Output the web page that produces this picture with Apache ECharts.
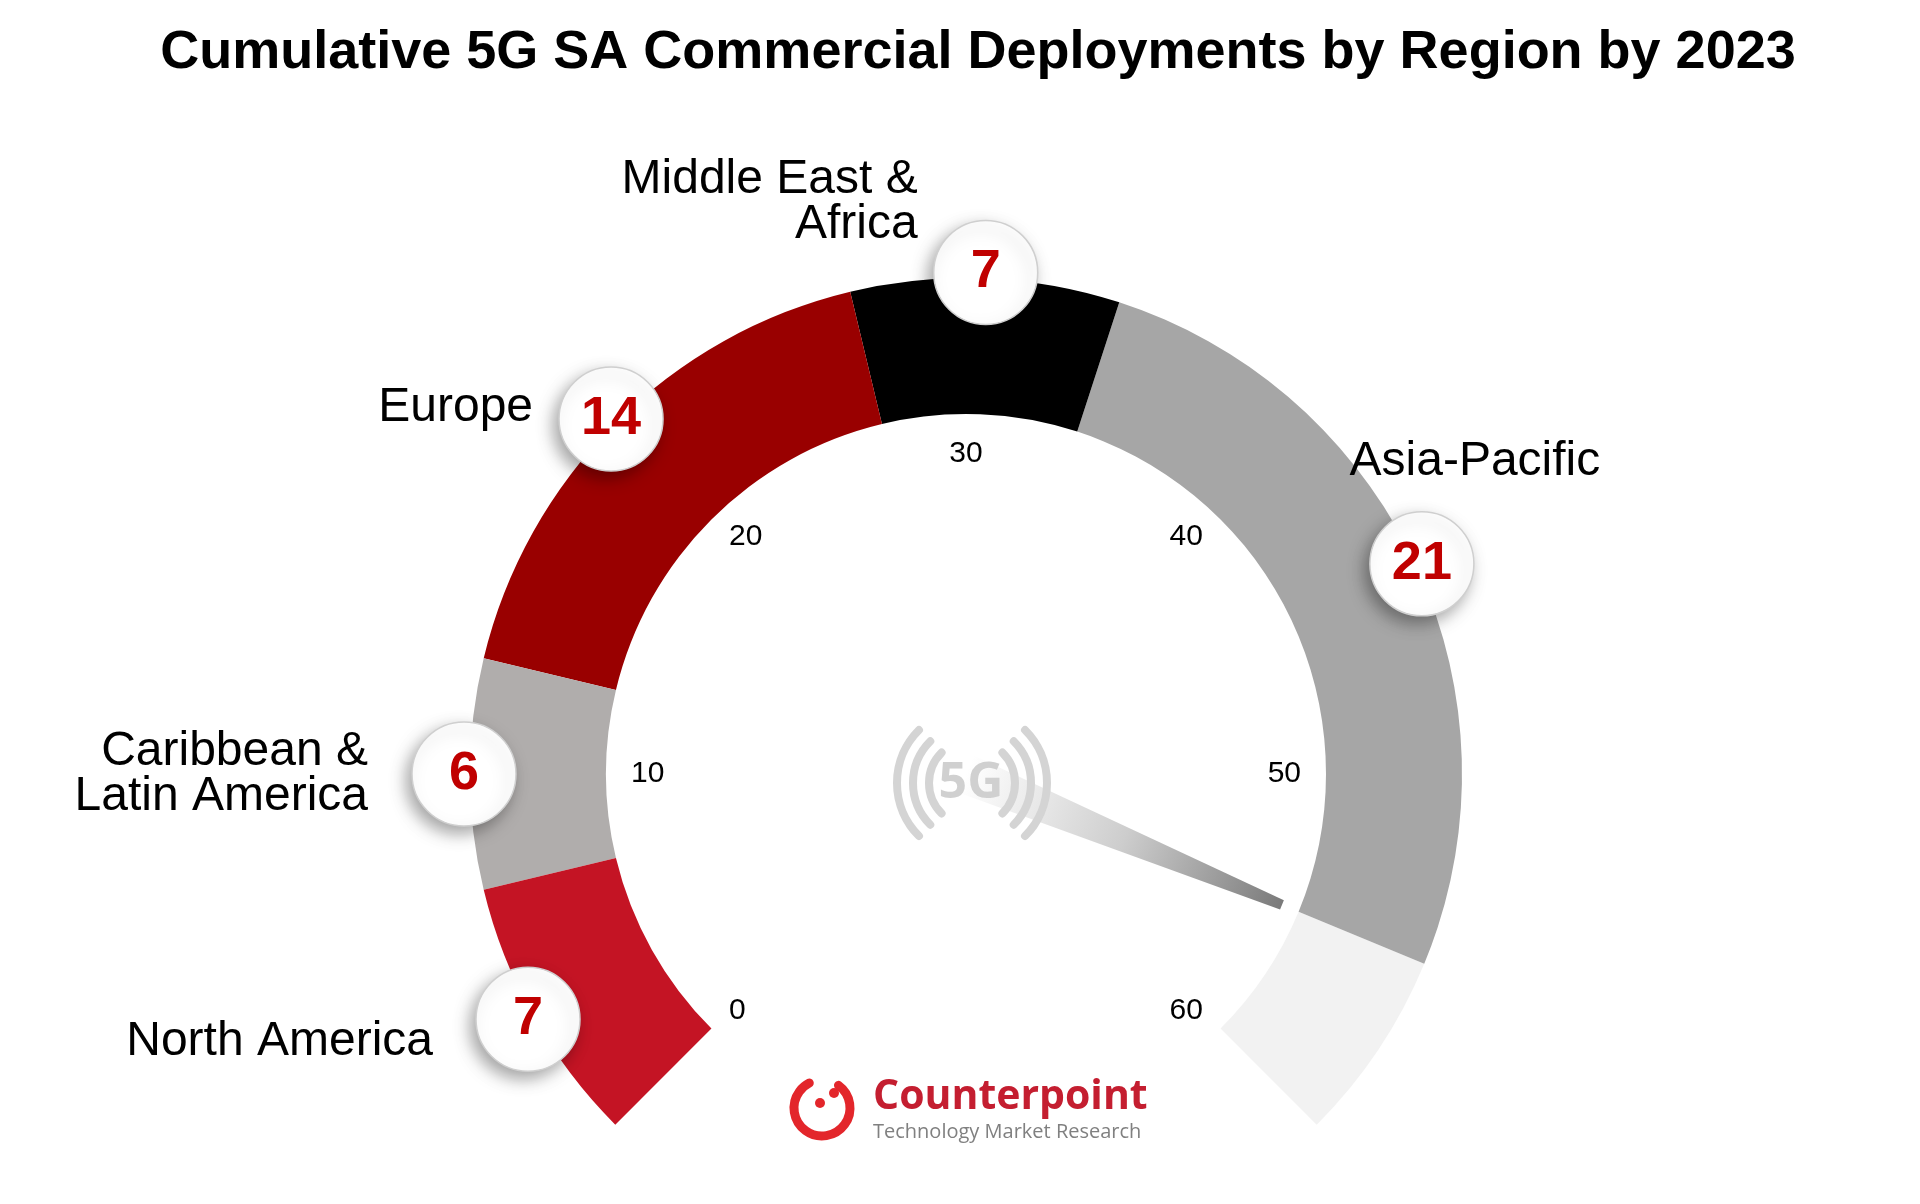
<!DOCTYPE html>
<html>
<head>
<meta charset="utf-8">
<script src="https://cdn.jsdelivr.net/npm/echarts@6/dist/echarts.min.js"></script>
<style>
html,body{margin:0;padding:0;background:#fff;}
#chart{width:1920px;height:1204px;}
</style>
</head>
<body>
<div id="chart"></div>
<script>
// ---- data ----
const regions = ['North America', 'Caribbean & Latin America', 'Europe', 'Middle East & Africa', 'Asia-Pacific'];
const regionLabels = ['North America', 'Caribbean &\nLatin America', 'Europe', 'Middle East &\nAfrica', 'Asia-Pacific'];
const deployments = [7, 6, 14, 7, 21];
const axisMin = 0;
const axisMax = 60;
const axisSplits = 6;
const titleText = 'Cumulative 5G SA Commercial Deployments by Region by 2023';

// ---- styles ----
const segmentColors = ['#c41424', '#b0adac', '#990000', '#000000', '#a6a6a6'];
const restColor = '#f2f2f2';

// ---- derived ----
const cumEnd = [];
deployments.reduce((acc, v, i) => { cumEnd[i] = acc + v; return acc + v; }, 0);
const total = cumEnd[cumEnd.length - 1];
const mids = deployments.map((v, i) => cumEnd[i] - v / 2);
const stops = deployments.map((v, i) => [cumEnd[i] / axisMax, segmentColors[i]]);
stops.push([1, restColor]);

const CX = 966, CY = 774, R = 496;
const labelPlacement = [
  { position: [-43, 74], align: 'right' },
  { position: [-44, 52], align: 'right' },
  { position: [-26, 41], align: 'right' },
  { position: [-16, -18], align: 'right' },
  { position: [105, -50], align: 'center' }
];

const chart = echarts.init(document.getElementById('chart'), null, { renderer: 'canvas' });

const needleGrad = new echarts.graphic.LinearGradient(0, 0, 0, 1, [
  { offset: 0, color: '#7a7a7a' },
  { offset: 0.5, color: '#cdcdcd' },
  { offset: 1, color: '#ffffff' }
]);

const iconStroke = { stroke: '#d4d4d4', lineWidth: 8, fill: null, lineCap: 'round' };
function iconArc(r, a0, a1) {
  return { type: 'arc', z: 30, shape: { cx: 972, cy: 783, r: r, startAngle: a0, endAngle: a1 }, style: iconStroke };
}

const option = {
  animation: false,
  backgroundColor: '#ffffff',
  title: {
    text: titleText,
    left: 973,
    textAlign: 'center',
    top: 21,
    textStyle: { fontFamily: 'Liberation Sans', fontWeight: 'bold', fontSize: 54, color: '#000' }
  },
  polar: { center: [CX, CY], radius: 502 },
  angleAxis: { type: 'value', min: axisMin, max: axisMax * 4 / 3, startAngle: 225, clockwise: true, show: false },
  radiusAxis: { type: 'value', min: 0, max: 1, show: false },
  series: [
    {
      type: 'gauge',
      center: [CX, CY],
      radius: R,
      startAngle: 225,
      endAngle: -45,
      min: axisMin,
      max: axisMax,
      splitNumber: axisSplits,
      axisLine: { lineStyle: { width: 136, color: stops } },
      axisTick: { show: false },
      splitLine: { show: false, length: 0, distance: 0 },
      axisLabel: { distance: 161, fontSize: 30, color: '#000', fontFamily: 'Liberation Sans' },
      pointer: {
        icon: 'path://M15,0 L25,0 L40,340 L0,340 Z',
        length: 342,
        width: 40,
        itemStyle: { color: needleGrad }
      },
      anchor: { show: false },
      title: { show: false },
      detail: { show: false },
      data: [{ value: total, name: 'Total' }],
      z: 2
    },
    {
      type: 'scatter',
      coordinateSystem: 'polar',
      symbol: 'circle',
      symbolSize: 104,
      z: 5,
      itemStyle: {
        color: '#ffffff', opacity: 1, borderColor: '#cfcfcf', borderWidth: 1.5,
        shadowBlur: 16, shadowColor: 'rgba(0,0,0,0.35)', shadowOffsetX: -5, shadowOffsetY: 7
      },
      label: {
        show: true, position: 'inside',
        formatter: p => String(deployments[p.dataIndex]),
        fontFamily: 'Liberation Sans', fontWeight: 'bold', fontSize: 54, color: '#c00000'
      },
      data: regions.map((r, i) => ({ name: r, value: [1, mids[i]] }))
    },
    {
      type: 'scatter',
      coordinateSystem: 'polar',
      symbol: 'circle',
      symbolSize: 104,
      z: 4,
      silent: true,
      itemStyle: { color: 'rgba(255,255,255,0)', opacity: 1 },
      label: {
        show: true,
        formatter: p => regionLabels[p.dataIndex],
        fontFamily: 'Liberation Sans', fontSize: 48, lineHeight: 45, color: '#000000',
        verticalAlign: 'middle'
      },
      data: regions.map((r, i) => ({
        name: r, value: [1, mids[i]],
        label: { position: labelPlacement[i].position, align: labelPlacement[i].align, verticalAlign: 'middle' }
      }))
    }
  ],
  graphic: [
    // 5G icon
    iconArc(43, Math.PI * 0.75, Math.PI * 1.25),
    iconArc(59, Math.PI * 0.75, Math.PI * 1.25),
    iconArc(75, Math.PI * 0.75, Math.PI * 1.25),
    iconArc(43, -Math.PI * 0.25, Math.PI * 0.25),
    iconArc(59, -Math.PI * 0.25, Math.PI * 0.25),
    iconArc(75, -Math.PI * 0.25, Math.PI * 0.25),
    { type: 'text', z: 30, x: 971, y: 784, style: { text: '5G', font: 'bold 50px "Open Sans"', fill: '#d0d0d0', textAlign: 'center', textVerticalAlign: 'middle' } },
    // Counterpoint logo
    { type: 'arc', z: 30, shape: { cx: 822, cy: 1108, r: 28, startAngle: -Math.PI * 0.3, endAngle: Math.PI * 1.35 }, style: { stroke: '#e3262b', lineWidth: 9, fill: null, lineCap: 'round' } },
    { type: 'circle', z: 30, shape: { cx: 834, cy: 1093, r: 5 }, style: { fill: '#e3262b' } },
    { type: 'circle', z: 30, shape: { cx: 820, cy: 1103, r: 5 }, style: { fill: '#e3262b' } },
    { type: 'text', z: 30, x: 873, y: 1097, style: { text: 'Counterpoint', font: 'bold 41px "Open Sans"', fill: '#c41e30', textAlign: 'left', textVerticalAlign: 'middle' } },
    { type: 'text', z: 30, x: 873, y: 1132, style: { text: 'Technology Market Research', font: '20px "Open Sans"', fill: '#808080', textAlign: 'left', textVerticalAlign: 'middle' } }
  ]
};

chart.setOption(option);
</script>
</body>
</html>
